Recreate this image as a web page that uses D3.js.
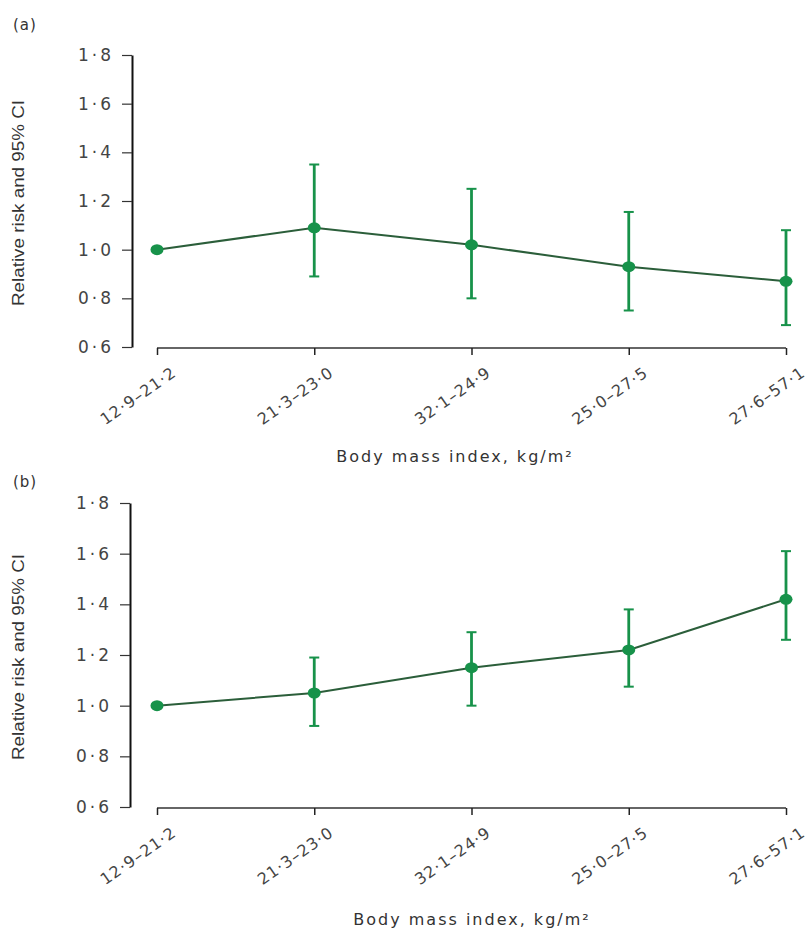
<!DOCTYPE html>
<html><head><meta charset="utf-8">
<script src="https://cdn.jsdelivr.net/npm/d3@7"></script>
<style>
body{margin:0;background:#fff;}
svg{display:block;}
</style></head>
<body>
<svg id="chart" width="809" height="933"></svg>
<script>
// ---- data ----
const categories = ["12·9–21·2", "21·3–23·0", "32·1–24·9", "25·0–27·5", "27·6–57·1"];
const yTicks = [0.6, 0.8, 1.0, 1.2, 1.4, 1.6, 1.8];
const yTickLabels = ["0·6", "0·8", "1·0", "1·2", "1·4", "1·6", "1·8"];
const rrA   = [1.00, 1.09, 1.02, 0.93, 0.87];
const lowA  = [null, 0.89, 0.80, 0.75, 0.69];
const highA = [null, 1.35, 1.25, 1.155, 1.08];
const rrB   = [1.00, 1.05, 1.15, 1.22, 1.42];
const lowB  = [null, 0.92, 1.00, 1.075, 1.26];
const highB = [null, 1.19, 1.29, 1.38, 1.61];
const panelLabels = ["(a)", "(b)"];
const yTitle = "Relative risk and 95% CI";
const xTitle = "Body mass index, kg/m²";

const svg = d3.select("#chart");
const green = "#17924a";
const lineCol = "#2b5e3a";

const panels = [
  {label: panelLabels[0], rr: rrA, lo: lowA, hi: highA, top: 55, bottom: 347, yAxisX: 132, labelY: 30, xtY: 462, xtX: 455},
  {label: panelLabels[1], rr: rrB, lo: lowB, hi: highB, top: 503, bottom: 807, yAxisX: 130, labelY: 487, xtY: 925, xtX: 472}
];

panels.forEach(p => {
  const g = svg.append("g");
  const x = d3.scalePoint().domain(categories).range([157, 786]);
  const y = d3.scaleLinear().domain([0.6, 1.8]).range([p.bottom, p.top]);

  // panel label
  g.append("text").attr("x", 13).attr("y", p.labelY)
    .attr("font-family", "DejaVu Sans, sans-serif").attr("font-size", 15)
    .attr("letter-spacing", "1px")
    .attr("fill", "#333").text(p.label);

  // y axis
  const ya = d3.axisLeft(y).tickValues(yTicks)
    .tickFormat((d, i) => yTickLabels[i]).tickSize(10).tickPadding(8).tickSizeOuter(0);
  const yg = g.append("g").attr("transform", `translate(${p.yAxisX},0)`).call(ya);
  yg.select(".domain").attr("stroke", "#111").attr("stroke-width", 2);
  yg.selectAll(".tick line").attr("stroke", "#333").attr("stroke-width", 1.2);
  yg.selectAll(".tick text").attr("font-family", "DejaVu Sans, sans-serif")
    .attr("font-size", 17).attr("letter-spacing", "3px").attr("fill", "#444");

  // y title
  g.append("text")
    .attr("transform", `translate(24,${(p.top + p.bottom) / 2 + 2}) rotate(-90)`)
    .attr("text-anchor", "middle")
    .attr("font-family", "Liberation Sans Narrow, Arial Narrow, Liberation Sans, sans-serif")
    .attr("font-size", 17).attr("fill", "#333")
    .attr("textLength", 206).attr("lengthAdjust", "spacingAndGlyphs")
    .text(yTitle);

  // x axis
  const xa = d3.axisBottom(x).tickSize(7).tickSizeOuter(0).tickFormat(() => "");
  const xg = g.append("g").attr("transform", `translate(0,${p.bottom + 1})`).call(xa);
  xg.select(".domain").attr("stroke", "#333").attr("stroke-width", 1.5)
    .attr("d", `M${x(categories[0])},0H${x(categories[categories.length - 1])}`);
  xg.selectAll(".tick line").attr("stroke", "#222").attr("stroke-width", 1.5);
  xg.selectAll(".tick").append("text")
    .attr("transform", "translate(20,27) rotate(-35)")
    .attr("text-anchor", "end")
    .attr("font-family", "DejaVu Sans, sans-serif")
    .attr("font-size", 16).attr("letter-spacing", "1px").attr("fill", "#444")
    .text(d => d);

  // x title
  g.append("text").attr("x", p.xtX).attr("y", p.xtY)
    .attr("text-anchor", "middle")
    .attr("font-family", "DejaVu Sans, sans-serif")
    .attr("font-size", 16).attr("letter-spacing", "2px").attr("fill", "#333")
    .text(xTitle);

  // line
  const line = d3.line().x((d, i) => x(categories[i])).y(d => y(d));
  g.append("path").datum(p.rr).attr("d", line)
    .attr("fill", "none").attr("stroke", lineCol).attr("stroke-width", 2);

  // error bars
  const eb = categories.map((c, i) => ({c, lo: p.lo[i], hi: p.hi[i]})).filter(d => d.lo != null);
  const ebg = g.append("g").attr("stroke", green).attr("stroke-width", 2.8);
  ebg.selectAll(".v").data(eb).join("line")
    .attr("x1", d => x(d.c)).attr("x2", d => x(d.c))
    .attr("y1", d => y(d.lo)).attr("y2", d => y(d.hi));
  ebg.selectAll(".capt").data(eb).join("line")
    .attr("x1", d => x(d.c) - 5).attr("x2", d => x(d.c) + 5)
    .attr("y1", d => y(d.hi)).attr("y2", d => y(d.hi)).attr("stroke-width", 2);
  ebg.selectAll(".capb").data(eb).join("line")
    .attr("x1", d => x(d.c) - 5).attr("x2", d => x(d.c) + 5)
    .attr("y1", d => y(d.lo)).attr("y2", d => y(d.lo)).attr("stroke-width", 2);

  // markers
  g.selectAll(".pt").data(p.rr).join("ellipse")
    .attr("cx", (d, i) => x(categories[i])).attr("cy", d => y(d))
    .attr("rx", 6.5).attr("ry", 5.5).attr("fill", green);
});
</script>
</body></html>
